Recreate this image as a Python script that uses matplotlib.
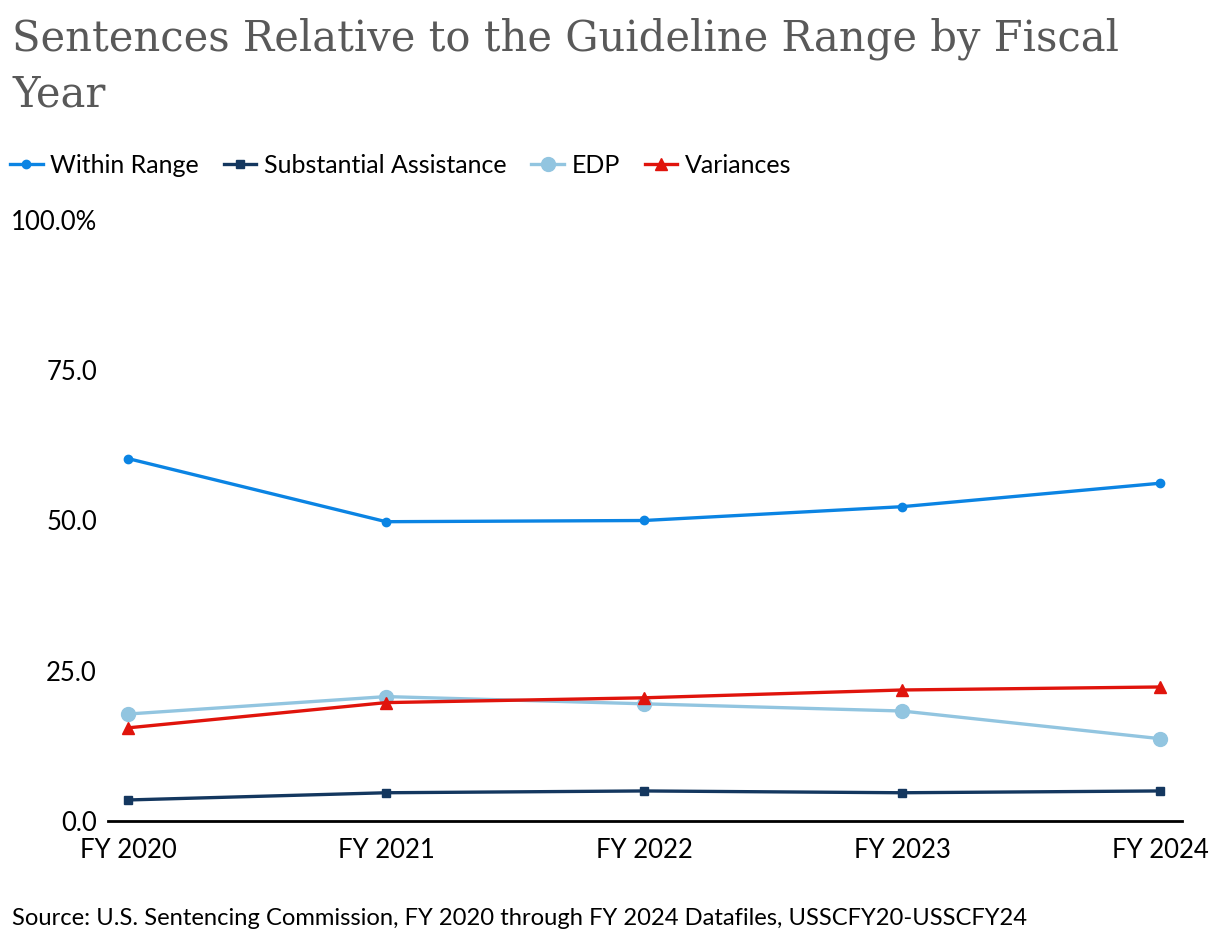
import numpy as np
import matplotlib as mpl
import matplotlib.pyplot as plt

years = ['FY 2020', 'FY 2021', 'FY 2022', 'FY 2023', 'FY 2024']
within_range = [60.3, 49.8, 50.0, 52.3, 56.2]
substantial = [3.5, 4.7, 5.0, 4.7, 5.0]
edp = [17.8, 20.7, 19.5, 18.3, 13.7]
variances = [15.5, 19.7, 20.5, 21.8, 22.3]

mpl.rcParams['font.family'] = ['Lato', 'DejaVu Sans']

fig = plt.figure(figsize=(12.2, 9.46), dpi=100)
ax = fig.add_axes([108/1220, 1-821/946, (1182-108)/1220, (821-220)/946])

x = np.arange(len(years))
ax.plot(x, within_range, color='#0b84e3', lw=2.4, marker='o', ms=6, label='Within Range')
ax.plot(x, substantial, color='#14375f', lw=2.4, marker='s', ms=6, label='Substantial Assistance')
ax.plot(x, edp, color='#92c5e0', lw=2.4, marker='o', ms=10, label='EDP')
ax.plot(x, variances, color='#e0140c', lw=2.4, marker='^', ms=9, label='Variances')

ax.set_xlim(-0.078, 4.085)
ax.set_ylim(0, 100)
ax.set_yticks([0, 25, 50, 75, 100])
ax.set_yticklabels(['0.0', '25.0', '50.0', '75.0', '100.0%'])
ax.set_xticks(x)
ax.set_xticklabels(years)
ax.tick_params(length=0, labelsize=18.5, colors='black', pad=8)
ax.tick_params(axis='x', pad=12)
for s in ['top', 'right', 'left']:
    ax.spines[s].set_visible(False)
ax.spines['bottom'].set_linewidth(2)
ax.spines['bottom'].set_color('black')

fig.text(12/1220, 1-18/946, 'Sentences Relative to the Guideline Range by Fiscal\nYear',
         family='DejaVu Serif', fontsize=30, color='#595959', va='top', ha='left',
         linespacing=1.4)

ax.legend(loc='upper left', bbox_to_anchor=(10/1220, 1-154/946), bbox_transform=fig.transFigure,
          ncol=4, frameon=False, fontsize=18, handlelength=1.3, handletextpad=0.3,
          columnspacing=1.0, borderaxespad=0, borderpad=0)

fig.text(12/1220, 1-918/946, 'Source: U.S. Sentencing Commission, FY 2020 through FY 2024 Datafiles, USSCFY20-USSCFY24',
         fontsize=17.1, va='center', ha='left')

fig.savefig('out.png', dpi=100)
